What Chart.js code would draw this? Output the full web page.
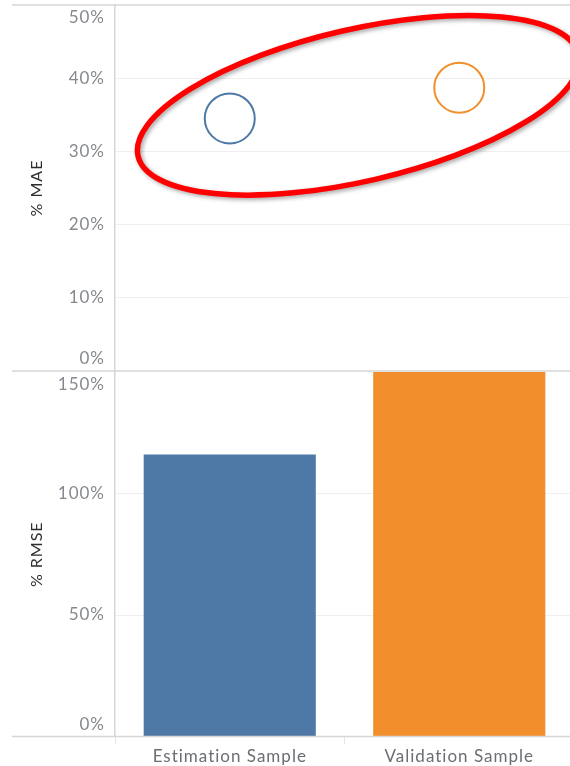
<!DOCTYPE html>
<html>
<head>
<meta charset="utf-8">
<script src="https://cdn.jsdelivr.net/npm/chart.js@4"></script>
<style>
  body { margin: 0; background: #fff; overflow: hidden; width: 570px; height: 766px; position: relative; }
  canvas { position: absolute; left: 0; }
  #mae { top: 0; }
  #rmse { top: 372px; }
</style>
</head>
<body>
<canvas id="mae" width="574" height="372"></canvas>
<canvas id="rmse" width="574" height="394"></canvas>
<script>
const categories = ['Estimation Sample', 'Validation Sample'];
const colors = ['#4e79a7', '#f28e2b'];
const maeValues = [34.5, 38.7];
const rmseValues = [116, 150];
const maeRange = [0, 50, 10];
const rmseRange = [0, 150, 50];
// red marker drawn over the MAE panel, centre in data units
const highlightCenter = [0.56, 36.3];

const FONT = 'Lato, "Open Sans", sans-serif';
const BORDER = '#d6d6d6';

// wider tracking, like the Tableau font
const tracking = {
  id: 'tracking',
  beforeDraw(chart) { chart.ctx.letterSpacing = '1px'; }
};

// Tableau puts the first and last tick labels inside the pane
const edgeLabels = {
  id: 'edgeLabels',
  afterDraw(chart) {
    const ctx = chart.ctx;
    const s = chart.scales.y;
    ctx.save();
    ctx.font = '17px ' + FONT;
    ctx.fillStyle = '#85898f';
    ctx.textAlign = 'right';
    ctx.textBaseline = 'middle';
    s.ticks.forEach((t, i) => {
      let y = s.getPixelForValue(t.value);
      if (i === 0) y -= 12;
      if (i === s.ticks.length - 1) y += 12.5;
      ctx.fillText(t.value + '%', s.right - 10, y);
    });
    ctx.restore();
  }
};

// pane borders that run into the header column
const paneLines = {
  id: 'paneLines',
  afterDraw(chart, args, opts) {
    const ctx = chart.ctx;
    const a = chart.chartArea;
    ctx.save();
    ctx.strokeStyle = BORDER;
    ctx.lineWidth = 1.5;
    opts.edges.forEach(e => {
      const y = e === 'top' ? a.top : a.bottom;
      ctx.beginPath();
      ctx.moveTo(12, y);
      ctx.lineTo(chart.width, y);
      ctx.stroke();
    });
    ctx.restore();
  }
};

const highlight = {
  id: 'highlight',
  afterDatasetsDraw(chart) {
    const ctx = chart.ctx;
    const cx = chart.scales.x.getPixelForValue(highlightCenter[0]);
    const cy = chart.scales.y.getPixelForValue(highlightCenter[1]);
    ctx.save();
    ctx.shadowColor = 'rgba(0,0,0,0.35)';
    ctx.shadowBlur = 4;
    ctx.shadowOffsetX = 2;
    ctx.shadowOffsetY = 2;
    ctx.strokeStyle = '#ff0000';
    ctx.lineWidth = 5.5;
    ctx.beginPath();
    ctx.ellipse(cx, cy, 226, 76, -13 * Math.PI / 180, 0, Math.PI * 2);
    ctx.stroke();
    ctx.restore();
  }
};

function yAxis(range, title) {
  return {
    min: range[0],
    max: range[1],
    ticks: { stepSize: range[2], display: false },
    grid: {
      color: c => (c.tick.value === range[0] || c.tick.value === range[1]) ? 'rgba(0,0,0,0)' : '#efefef',
      drawTicks: false
    },
    border: { color: BORDER, width: 1.5 },
    title: {
      display: true,
      text: title,
      color: '#2e2e2e',
      font: { family: FONT, size: 16 },
      padding: { top: 27, bottom: 0 }
    },
    afterFit: s => { s.width = 115; }
  };
}

new Chart(document.getElementById('mae'), {
  type: 'line',
  data: {
    labels: categories,
    datasets: [{
      data: maeValues,
      showLine: false,
      pointRadius: 25,
      pointHoverRadius: 25,
      pointBorderWidth: 2,
      pointBorderColor: colors,
      pointBackgroundColor: 'rgba(0,0,0,0)'
    }]
  },
  options: {
    responsive: false,
    devicePixelRatio: 1,
    animation: false,
    layout: { autoPadding: false, padding: { top: 5, bottom: 1, left: 0, right: 0 } },
    plugins: { legend: { display: false }, tooltip: { enabled: false }, paneLines: { edges: ['top', 'bottom'] } },
    scales: {
      x: { type: 'category', offset: true, display: false },
      y: yAxis(maeRange, '% MAE')
    }
  },
  plugins: [tracking, edgeLabels, paneLines, highlight]
});

new Chart(document.getElementById('rmse'), {
  type: 'bar',
  data: {
    labels: categories,
    datasets: [{
      data: rmseValues,
      backgroundColor: colors,
      barPercentage: 0.75,
      categoryPercentage: 1
    }]
  },
  options: {
    responsive: false,
    devicePixelRatio: 1,
    animation: false,
    layout: { autoPadding: false, padding: { top: 0, bottom: 0, left: 0, right: 0 } },
    plugins: { legend: { display: false }, tooltip: { enabled: false }, paneLines: { edges: ['bottom'] } },
    scales: {
      x: {
        offset: true,
        grid: { drawOnChartArea: false, drawTicks: true, tickLength: 8, color: '#e4e4e4', offset: true },
        border: { display: false },
        ticks: { color: '#6a6d72', font: { family: FONT, size: 17 }, padding: 2 },
        afterFit: s => { s.height = 29.5; }
      },
      y: yAxis(rmseRange, '% RMSE')
    }
  },
  plugins: [tracking, edgeLabels, paneLines]
});
</script>
</body>
</html>
